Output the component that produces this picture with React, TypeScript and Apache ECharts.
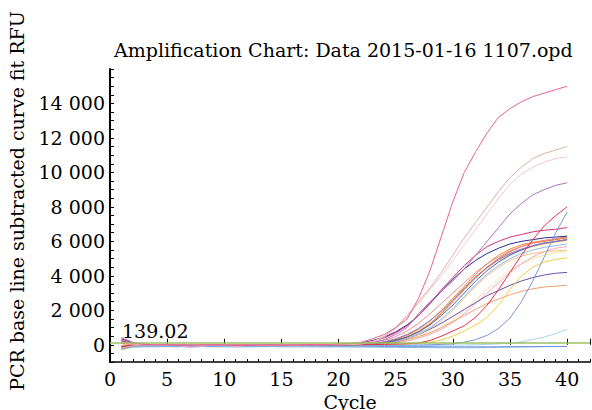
import React, { useEffect, useRef } from "react";
import * as echarts from "echarts";

const TITLE = "Amplification Chart: Data 2015-01-16 1107.opd";
const Y_NAME = "PCR base line subtracted curve fit RFU";
const X_NAME = "Cycle";
const THRESHOLD = 139.02;

const cycles = [1,2,3,4,5,6,7,8,9,10,11,12,13,14,15,16,17,18,19,20,21,22,23,24,25,26,27,28,29,30,31,32,33,34,35,36,37,38,39,40];

const rose = [300,80,20,0,10,0,-10,0,10,0,-10,0,0,10,0,0,10,20,20,40, 60,150,350,600,1000,1500,2700,4300,6300,8300,10000,11200,12300,13200,13700,14100,14400,14600,14800,15000];
const tan = [-200,-60,-10,0,0,10,0,-10,0,0,10,0,0,-10,0,0,0,10,10,20, 20,60,200,500,1000,1700,2500,3300,4200,5200,6200,7100,8000,8900,9700,10300,10800,11100,11300,11500];
const lightPink = [150,40,0,-10,0,0,10,0,0,-10,0,10,0,0,0,-10,0,0,10,10, 20,60,180,450,950,1600,2400,3200,4000,4900,5800,6700,7600,8500,9300,9900,10300,10600,10800,10900];
const purple = [420,140,30,0,-10,0,10,0,-10,0,0,10,0,0,-10,0,0,0,0,10, 10,40,120,300,600,1000,1800,2500,3100,3700,4400,5200,6000,6800,7600,8200,8700,9000,9250,9400];
const red = [-100,-30,0,10,0,-10,0,0,-10,-20,-30,-20,-20,-20,-30,-20,-20,-10,-10,0, 0,0,10,20,40,60,100,250,500,800,1100,1600,2300,3200,4200,5200,6100,6900,7500,8000];
const steepBlue = [-250,-100,-40,-20,-20,-30,-20,-30,-20,-30,-30,-20,-30,-30,-20,-30,-30,-20,-20,-20, -20,-20,-30,-30,-20,-20,-10,0,20,50,150,300,550,950,1550,2500,3700,5100,6500,7700];
const magenta = [200,50,0,0,10,0,-10,0,0,10,0,0,-10,0,0,10,0,0,10,20, 30,80,200,400,700,1100,1700,2400,3200,3900,4600,5200,5700,6000,6250,6400,6550,6650,6700,6800];
const navy = [350,100,20,0,0,-10,0,10,0,0,-10,0,0,10,0,0,0,10,10,20, 30,100,250,450,750,1150,1700,2400,3100,3800,4400,4900,5300,5600,5850,6000,6100,6200,6250,6300];
const orange = [-180,-50,-10,0,10,0,0,-10,0,10,0,0,0,-10,0,10,0,0,0,10, 10,20,60,150,300,550,900,1400,2000,2700,3400,4100,4700,5200,5550,5800,5950,6050,6150,6250];
const darkOrange = [100,30,0,-10,0,10,0,0,-10,0,0,10,0,0,-10,0,0,0,10,0, 0,10,40,120,250,450,750,1200,1800,2500,3200,3900,4500,5000,5400,5700,5900,6000,6100,6200];
const blue = [-120,-40,-10,0,0,0,10,0,-10,0,0,0,10,0,-10,0,0,0,0,10, 10,20,50,120,250,450,750,1150,1700,2300,3000,3700,4300,4800,5200,5500,5750,5900,6000,6100];
const lightOrange = [60,20,0,0,-10,0,0,10,0,0,-10,0,0,0,10,0,0,-10,0,0, 0,10,30,80,180,350,600,950,1400,2000,2700,3400,4000,4500,4900,5150,5300,5400,5450,5500];
const yellow = [-300,-90,-30,-10,-10,0,-10,0,-10,0,-10,-10,0,-10,0,-10,-10,0,-10,-10, -10,-10,0,10,20,40,80,150,280,500,800,1150,1600,2300,3200,4000,4500,4800,4950,5050];
const purple2 = [250,60,10,0,0,10,0,-10,0,0,10,0,0,-10,0,0,0,0,10,0, 0,10,30,80,160,350,600,900,1250,1650,2050,2450,2850,3150,3450,3700,3900,4050,4150,4200];
const orange2 = [-80,-20,0,10,0,0,-10,0,10,0,0,-10,0,0,10,0,0,0,0,0, 0,10,30,80,170,300,480,700,1000,1350,1700,2050,2400,2650,2900,3100,3250,3350,3400,3450];
const lateBlue = [-200,-80,-60,-60,-60,-50,-60,-60,-50,-60,-60,-60,-50,-60,-60,-60,-60,-60,-60,-60, -60,-60,-60,-50,-50,-40,-40,-30,-30,-20,-10,0,20,50,100,170,300,450,650,900];
const flatLightBlue = [-260,-150,-120,-120,-110,-120,-120,-110,-120,-120,-130,-120,-120,-110,-120,-120,-120,-130,-130,-130, -130,-140,-140,-150,-150,-160,-160,-170,-170,-170,-180,-170,-160,-150,-140,-130,-120,-110,-100,-100];
const flatBlue = [-150,-100,-80,-80,-80,-90,-80,-80,-90,-80,-80,-90,-80,-80,-90,-80,-80,-80,-90,-90, -90,-90,-100,-100,-100,-110,-110,-110,-120,-120,-120,-120,-120,-120,-110,-110,-110,-100,-100,-100];
const palePink = [100,30,0,0,0,-50,-160,-100,0,0,-100,-40,0,0,0,0,0,0,10,10, 0,10,30,60,120,220,380,600,900,1300,1800,2400,3000,3600,4200,4700,5100,5400,5600,5700];
const midLightBlue = [-50,-10,0,0,10,0,0,-10,0,0,0,10,0,0,-10,0,0,0,0,0, 0,10,40,100,200,380,650,1000,1500,2100,2800,3500,4100,4600,5000,5300,5500,5650,5750,5850];
const violet = [180,40,10,0,0,0,-10,0,0,10,0,0,0,-10,0,0,10,0,0,10, 10,30,80,180,350,600,950,1400,1950,2600,3300,3950,4500,4950,5300,5550,5750,5900,6000,6100];
const goldOrange = [-60,-10,0,0,0,10,0,0,-10,0,0,0,10,0,0,-10,0,0,0,0, 0,20,50,130,270,480,800,1250,1850,2550,3250,3900,4450,4900,5250,5500,5700,5850,5950,6050];
const salmonPink = [80,20,0,0,-10,0,10,0,0,0,-10,0,0,10,0,0,0,10,10,20, 20,50,120,260,480,800,1250,1800,2400,3000,3600,4200,4700,5100,5450,5700,5900,6050,6150,6250];
const paleYellow = [40,10,0,0,0,0,10,0,0,-10,0,0,0,0,0,10,0,0,0,0, 0,10,20,60,130,250,420,680,1000,1450,2000,2600,3200,3800,4300,4700,5000,5200,5350,5400];

const curves: [string, number[], string][] = [
  ["flatLightBlue", flatLightBlue, "#88c0e8"],
  ["flatBlue", flatBlue, "#6a90d8"],
  ["lateBlue", lateBlue, "#a8d4f0"],
  ["paleYellow", paleYellow, "#f6e2a0"],
  ["palePink", palePink, "#f4a8bc"],
  ["orange2", orange2, "#f0a070"],
  ["purple2", purple2, "#6a50a8"],
  ["yellow", yellow, "#f0d040"],
  ["lightOrange", lightOrange, "#f8c080"],
  ["midLightBlue", midLightBlue, "#90b8e8"],
  ["goldOrange", goldOrange, "#f4b050"],
  ["orange", orange, "#f09030"],
  ["darkOrange", darkOrange, "#e07020"],
  ["blue", blue, "#4060c0"],
  ["violet", violet, "#9070c0"],
  ["salmonPink", salmonPink, "#f08898"],
  ["navy", navy, "#2c2c8c"],
  ["magenta", magenta, "#d8307a"],
  ["steepBlue", steepBlue, "#7898d8"],
  ["red", red, "#e8304a"],
  ["purple", purple, "#b070c0"],
  ["lightPink", lightPink, "#f5c6ce"],
  ["tan", tan, "#d9b49e"],
  ["rose", rose, "#e8609a"],
];

const FONT = "DejaVu Serif";
const FS = 19;

function fmt(v: number): string {
  return String(v).replace(/\B(?=(\d{3})+(?!\d))/g, " ");
}

export default function App() {
  const ref = useRef<HTMLDivElement>(null);
  useEffect(() => {
    if (!ref.current) return;
    const chart = echarts.init(ref.current, null, { renderer: "svg" });
    const series: any[] = curves.map(([name, vals, color], i) => ({
      type: "line",
      name,
      data: cycles.map((c, k) => [c, vals[k]]),
      showSymbol: false,
      symbol: "none",
      lineStyle: { color, width: 1 },
      itemStyle: { color },
      z: 3,
      markLine:
        i === 0
          ? {
              silent: true,
              symbol: ["none", "none"],
              lineStyle: { color: "#9dc15f", width: 1.5, type: "solid" },
              label: {
                show: true,
                position: "insideStartTop",
                formatter: String(THRESHOLD),
                fontFamily: FONT,
                fontSize: FS,
                color: "#000",
                distance: [12, 2],
              },
              data: [{ yAxis: THRESHOLD }],
            }
          : undefined,
    }));
    chart.setOption({
      animation: false,
      backgroundColor: "#fff",
      textStyle: { fontFamily: FONT },
      title: {
        text: TITLE,
        left: 114,
        top: 40,
        padding: 0,
        textStyle: { fontFamily: FONT, fontSize: FS, fontWeight: "normal", color: "#000" },
      },
      grid: { left: 110, right: 2, top: 69, bottom: 48, containLabel: false, outerBoundsMode: "none" },
      xAxis: [
        {
          type: "value",
          min: 0,
          max: 42,
          interval: 1,
          splitLine: { show: false },
          axisLine: { show: true, onZero: false, lineStyle: { color: "#000", width: 1.5 } },
          axisTick: { show: true, inside: true, length: 3, lineStyle: { color: "#000" } },
          axisLabel: {
            fontFamily: FONT,
            fontSize: FS,
            color: "#000",
            margin: 7,
            formatter: (v: number) => (v % 5 === 0 && v <= 40 ? String(v) : ""),
          },
          name: X_NAME,
          nameLocation: "middle",
          nameGap: 24,
          nameTextStyle: { fontFamily: FONT, fontSize: FS, color: "#000" },
        },
        {
          type: "value",
          min: 0,
          max: 42,
          interval: 5,
          position: "bottom",
          splitLine: { show: false },
          axisLine: { show: false },
          axisTick: { show: true, inside: true, length: 6, lineStyle: { color: "#000" } },
          axisLabel: { show: false },
        },
      ],
      yAxis: {
        type: "value",
        min: -1000,
        max: 16000,
        interval: 500,
        splitLine: { show: false },
        axisLine: { show: true, onZero: false, lineStyle: { color: "#000", width: 2 } },
        axisTick: { show: true, inside: true, length: 4, lineStyle: { color: "#000" } },
        axisLabel: {
          fontFamily: FONT,
          fontSize: FS,
          color: "#000",
          margin: 5,
          formatter: (v: number) => (v % 2000 === 0 && v >= 0 && v <= 14000 ? fmt(v) : ""),
        },
      },
      graphic: [
        {
          type: "text",
          x: 17,
          y: 201,
          rotation: Math.PI / 2,
          style: {
            text: Y_NAME,
            fontFamily: FONT,
            fontSize: FS,
            fill: "#000",
            align: "center",
            verticalAlign: "middle",
          },
        },
      ],
      series,
    });
    return () => chart.dispose();
  }, []);
  return (
    <div
      ref={ref}
      style={{ position: "absolute", left: 0, top: 0, width: 592, height: 410, background: "#fff" }}
    />
  );
}
